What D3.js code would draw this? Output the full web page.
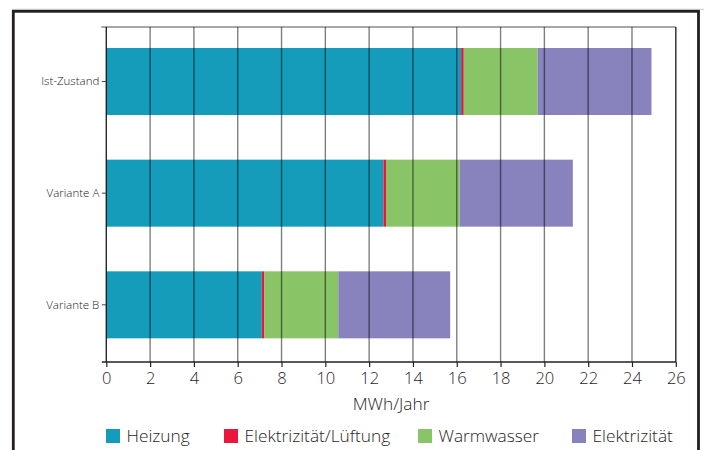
<!DOCTYPE html>
<html>
<head>
<meta charset="utf-8">
<script src="https://cdn.jsdelivr.net/npm/d3@7"></script>
<style>
  html, body { margin: 0; padding: 0; background: #fff; }
  svg { display: block; font-family: "Open Sans", "Noto Sans", sans-serif; font-weight: 300; }
</style>
</head>
<body>
<svg id="chart" width="704" height="450"></svg>
<script>
// ---- data ----
const categories = ["Ist-Zustand", "Variante A", "Variante B"];
const seriesNames = ["Heizung", "Elektrizität/Lüftung", "Warmwasser", "Elektrizität"];
const heizung = [16.2, 12.65, 7.1];
const lueftung = [0.12, 0.12, 0.12];
const warmwasser = [3.37, 3.36, 3.37];
const elektrizitaet = [5.2, 5.17, 5.11];
const xTicks = [0, 2, 4, 6, 8, 10, 12, 14, 16, 18, 20, 22, 24, 26];
const xLabel = "MWh/Jahr";
const colors = ["#149cba", "#e8173b", "#89c566", "#8883bd"];

(function () {
const seriesValues = [heizung, lueftung, warmwasser, elektrizitaet];
const rows = categories.map((c, i) => {
  const r = { cat: c };
  seriesNames.forEach((s, j) => r[s] = seriesValues[j][i]);
  return r;
});

const svg = d3.select("#chart");

// outer frame
svg.append("line").attr("x1", 12).attr("x2", 704).attr("y1", 9.3).attr("y2", 9.3)
  .attr("stroke", "#c8c8c8").attr("stroke-width", 1);
svg.append("rect").attr("x", 13.3).attr("y", 11.3).attr("width", 685.2).attr("height", 500)
  .attr("fill", "none").attr("stroke", "#231f20").attr("stroke-width", 2.8);

const pLeft = 106.3, pRight = 675.8, pTop = 27, pBottom = 362;

const x = d3.scaleLinear().domain([0, 26]).range([pLeft, pRight]);
const y = d3.scaleBand().domain(categories).range([pTop, pBottom])
  .paddingInner(0.4).paddingOuter(0.2).align(0.47);

const stacked = d3.stack().keys(seriesNames)(rows);

// bars
svg.append("g").selectAll("g").data(stacked).join("g")
  .attr("fill", (d, i) => colors[i])
  .selectAll("rect").data(d => d).join("rect")
  .attr("x", d => x(d[0]))
  .attr("width", d => x(d[1]) - x(d[0]))
  .attr("y", d => y(d.data.cat))
  .attr("height", y.bandwidth());

// top border line
svg.append("line").attr("x1", pLeft - 5).attr("x2", pRight).attr("y1", pTop).attr("y2", pTop)
  .attr("stroke", "#8a8a8a").attr("stroke-width", 1.6);

// vertical gridlines over bars
svg.append("g").selectAll("line").data(xTicks).join("line")
  .attr("x1", d => x(d)).attr("x2", d => x(d))
  .attr("y1", pTop).attr("y2", pBottom)
  .attr("stroke", "#000")
  .attr("stroke-opacity", (d, i) => (i === 0 || i === xTicks.length - 1) ? 0.85 : 0.5)
  .attr("stroke-width", 1.4);

// x axis
const xAxis = d3.axisBottom(x).tickValues(xTicks).tickSize(5).tickPadding(5).tickFormat(d3.format("d"));
const gx = svg.append("g").attr("transform", `translate(0,${pBottom})`).call(xAxis);
gx.select(".domain").remove();
gx.selectAll(".tick line").attr("stroke", "#222").attr("stroke-width", 1.2);
gx.selectAll(".tick text").attr("font-size", 16.5).attr("fill", "#1e1e1e")
  .attr("font-family", '"Open Sans", sans-serif').attr("font-weight", 300);
svg.append("line").attr("x1", pLeft - 4.5).attr("x2", pRight).attr("y1", pBottom).attr("y2", pBottom)
  .attr("stroke", "#222").attr("stroke-width", 1.3);

// y axis labels
const yAxis = d3.axisLeft(y).tickSize(4.5).tickPadding(2.5);
const gy = svg.append("g").attr("transform", `translate(${pLeft},0)`).call(yAxis);
gy.select(".domain").remove();
gy.selectAll(".tick line").attr("stroke", "#444").attr("stroke-width", 1);
gy.selectAll(".tick text").attr("font-size", 11.5).attr("fill", "#222")
  .attr("font-family", '"Open Sans", sans-serif').attr("font-weight", 300);

// x axis title
svg.append("text").attr("x", (pLeft + pRight) / 2).attr("y", 410)
  .attr("text-anchor", "middle").attr("font-size", 17.3).attr("fill", "#1e1e1e")
  .text(xLabel);

// legend
const legendX = [106, 224, 418, 572];
const lg = svg.append("g").selectAll("g").data(seriesNames).join("g")
  .attr("transform", (d, i) => `translate(${legendX[i]},429)`);
lg.append("rect").attr("width", 14).attr("height", 14).attr("fill", (d, i) => colors[i]);
lg.append("text").attr("x", 20.5).attr("y", 13).attr("font-size", 17.3).attr("fill", "#1e1e1e")
  .text(d => d);
})();
</script>
</body>
</html>
